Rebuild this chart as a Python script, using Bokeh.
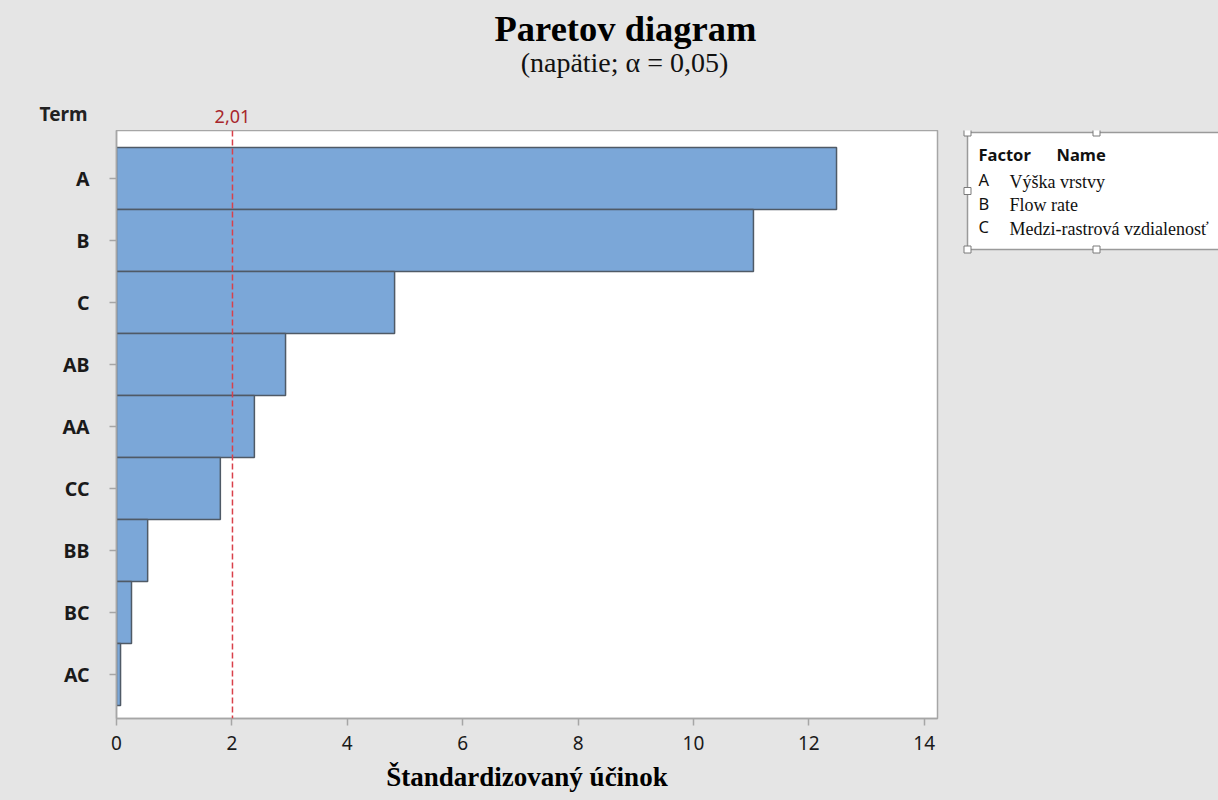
from bokeh.plotting import figure
from bokeh.layouts import column, row
from bokeh.models import Range1d, FixedTicker, Span
from bokeh.core.properties import value
from bokeh.embed import file_html
from bokeh.resources import INLINE

# ---- data ----
terms = ["A", "B", "C", "AB", "AA", "CC", "BB", "BC", "AC"]
effects = [12.48, 11.04, 4.82, 2.93, 2.39, 1.80, 0.54, 0.26, 0.07]
critical = 2.01
critical_label = "2,01"
x_ticks = [0, 2, 4, 6, 8, 10, 12, 14]
factors = ["A", "B", "C"]
factor_names = ["Výška vrstvy", "Flow rate", "Medzi-rastrová vzdialenosť"]
title_text = "Paretov diagram"
subtitle_text = "(napätie; α = 0,05)"
x_label = "Štandardizovaný účinok"
y_header = "Term"
legend_header = ["Factor", "Name"]

# ---- geometry (pixels) ----
TOTAL_W, TOTAL_H = 1218, 800
HEAD_H = 130
MAIN_W = 955
LEG_W = TOTAL_W - MAIN_W
BODY_H = TOTAL_H - HEAD_H
FL, FR = 116, 937          # frame left / right in main figure
FB = 718 - HEAD_H          # frame bottom in main figure (frame height)
X0, X1 = 0.0, 14.23
Y_TOP, Y_BOT = -0.774, 8.71
UPP = (X1 - X0) / (FR - FL)  # data units per pixel along x

BG = "#e5e5e5"
GRID = "#a6a6a6"
TXT = "#111111"

# ---------------- header (title, subtitle, "Term", critical label) ----------------
head = figure(width=TOTAL_W, height=HEAD_H, output_backend="svg", toolbar_location=None,
              x_range=Range1d(X0 - FL * UPP, X0 + (TOTAL_W - FL) * UPP),
              y_range=Range1d(HEAD_H, 0), x_axis_type=None, y_axis_type=None,
              min_border=0)
head.background_fill_color = BG
head.border_fill_color = BG
head.outline_line_color = None
head.grid.visible = False


def hx(px):
    return X0 + (px - FL) * UPP


head.text(x=[hx(625)], y=[28], text=[title_text], text_font=value("Liberation Serif"),
          text_font_style="bold", text_font_size="36.5px", text_align="center",
          text_baseline="middle", text_color="black")
head.text(x=[hx(624)], y=[62], text=[subtitle_text], text_font=value("Liberation Serif"),
          text_font_size="28px", text_align="center", text_baseline="middle",
          text_color=TXT)
head.text(x=[hx(63)], y=[113], text=[y_header], text_font=value("Noto Sans"),
          text_font_style="bold", text_font_size="19px", text_align="center",
          text_baseline="middle", text_color="#222222")
head.text(x=[critical], y=[116], text=[critical_label], text_font=value("Noto Sans"),
          text_font_size="18px", text_align="center", text_baseline="middle",
          text_color="#a8262c")

# ---------------- main chart ----------------
p = figure(width=MAIN_W, height=BODY_H, output_backend="svg", toolbar_location=None,
           x_range=Range1d(X0, X1), y_range=Range1d(Y_BOT, Y_TOP),
           min_border_left=FL, min_border_right=MAIN_W - FR,
           min_border_top=0, min_border_bottom=BODY_H - FB)
p.background_fill_color = "white"
p.border_fill_color = BG
p.outline_line_color = GRID
p.outline_line_width = 1.5
p.grid.visible = False

idx = list(range(len(terms)))
p.hbar(y=idx, left=0, right=effects, height=1.0,
       fill_color="#7ba7d8", line_color="#4f5a66", line_width=1.5)

p.add_layout(Span(location=critical, dimension="height", line_color="#d9404a",
                  line_dash="6 3", line_width=1.5))

p.xaxis.ticker = FixedTicker(ticks=x_ticks)
p.xaxis.axis_label = x_label
p.xaxis.axis_label_text_font = "Liberation Serif"
p.xaxis.axis_label_text_font_style = "bold"
p.xaxis.axis_label_text_font_size = "27px"
p.xaxis.axis_label_text_color = "#000000"
p.xaxis.axis_label_standoff = 9
p.xaxis.major_label_text_font = "Noto Sans"
p.xaxis.major_label_text_font_size = "19px"
p.xaxis.major_label_text_color = "#1a1a1a"
p.xaxis.major_label_standoff = 10
p.xaxis.minor_tick_line_color = None

p.yaxis.ticker = FixedTicker(ticks=idx)
p.yaxis.major_label_overrides = {i: t for i, t in zip(idx, terms)}
p.yaxis.major_label_text_font = "Noto Sans"
p.yaxis.major_label_text_font_style = "bold"
p.yaxis.major_label_text_font_size = "19.5px"
p.yaxis.major_label_text_color = "#1a1a1a"
p.yaxis.major_label_standoff = 20
p.yaxis.minor_tick_line_color = None

for ax in (p.xaxis[0], p.yaxis[0]):
    ax.axis_line_color = GRID
    ax.axis_line_width = 1.5
    ax.major_tick_line_color = GRID
    ax.major_tick_line_width = 1.5
    ax.major_tick_out = 7
    ax.major_tick_in = 0

# ---------------- legend panel (frame aligned with the main frame) ----------------
leg = figure(width=LEG_W, height=BODY_H, output_backend="svg", toolbar_location=None,
             x_range=Range1d(0, LEG_W), y_range=Range1d(FB, 0),
             x_axis_type=None, y_axis_type=None, min_border_left=0, min_border_right=0,
             min_border_top=0, min_border_bottom=BODY_H - FB)
leg.background_fill_color = BG
leg.border_fill_color = BG
leg.outline_line_color = None
leg.grid.visible = False

BOX_L, BOX_T, BOX_B = 967 - MAIN_W, 132 - HEAD_H, 249 - HEAD_H
leg.quad(left=[BOX_L], right=[LEG_W + 20], top=[BOX_T], bottom=[BOX_B],
         fill_color="white", line_color="#9a9a9a", line_width=1.5)
hxs = [BOX_L, BOX_L + 129, BOX_L, BOX_L, BOX_L + 129]
hys = [BOX_T, BOX_T, (BOX_T + BOX_B) / 2, BOX_B, BOX_B]
leg.rect(x=hxs, y=hys, width=7, height=7, fill_color="white", line_color="#7a7a7a",
         line_width=1)

leg.text(x=[BOX_L + 11, BOX_L + 89], y=[24, 24], text=legend_header,
         text_font=value("Noto Sans"), text_font_style="bold", text_font_size="16.5px",
         text_baseline="middle", text_color=TXT)
row_y = [50 + 23.5 * k for k in range(len(factors))]
leg.text(x=[BOX_L + 11] * len(factors), y=[y - 1 for y in row_y], text=factors,
         text_font=value("Noto Sans"), text_font_size="16.5px", text_baseline="middle",
         text_color=TXT)
leg.text(x=[BOX_L + 42] * len(factors), y=[y + 1 for y in row_y], text=factor_names,
         text_font=value("Liberation Serif"), text_font_size="18px",
         text_baseline="middle", text_color=TXT)

body = row(p, leg, spacing=0, styles={"background-color": BG})
layout = column(head, body, spacing=0, styles={"background-color": BG})
open("out.html", "w").write(file_html(layout, INLINE))
